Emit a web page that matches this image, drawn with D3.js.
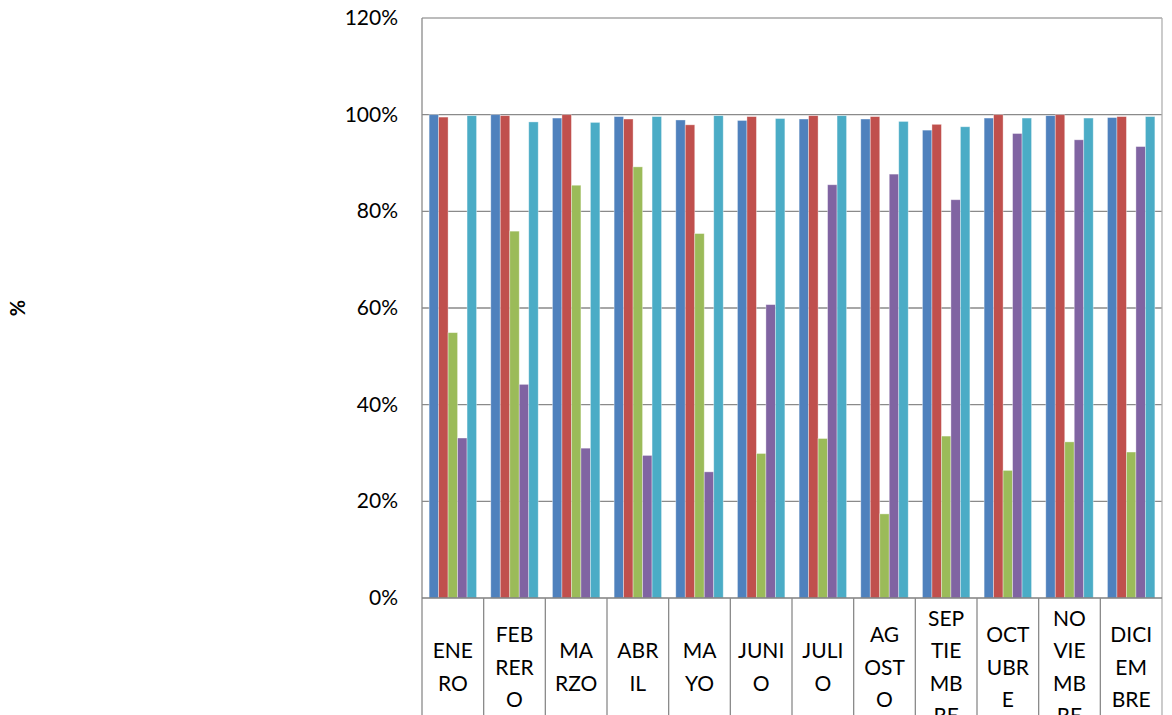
<!DOCTYPE html>
<html>
<head>
<meta charset="utf-8">
<script src="https://cdn.jsdelivr.net/npm/d3@7"></script>
<style>
  body { margin: 0; background: #fff; }
  text { font-family: Lato, "Open Sans", sans-serif; fill: #000; }
</style>
</head>
<body>
<svg id="chart" width="1172" height="715"></svg>
<script>
const months = ["ENERO", "FEBRERO", "MARZO", "ABRIL", "MAYO", "JUNIO", "JULIO",
  "AGOSTO", "SEPTIEMBRE", "OCTUBRE", "NOVIEMBRE", "DICIEMBRE"];
// how each month label wraps in the narrow category cells
const monthLines = [["ENE", "RO"], ["FEB", "RER", "O"], ["MA", "RZO"], ["ABR", "IL"],
  ["MA", "YO"], ["JUNI", "O"], ["JULI", "O"], ["AG", "OST", "O"], ["SEP", "TIE", "MB", "RE"],
  ["OCT", "UBR", "E"], ["NO", "VIE", "MB", "RE"], ["DICI", "EM", "BRE"]];

const serie1 = [1.000, 1.000, 0.993, 0.996, 0.989, 0.988, 0.991, 0.991, 0.968, 0.993, 0.998, 0.994];
const serie2 = [0.995, 0.998, 1.000, 0.991, 0.979, 0.996, 0.998, 0.996, 0.980, 1.000, 1.000, 0.996];
const serie3 = [0.549, 0.759, 0.854, 0.892, 0.754, 0.299, 0.330, 0.174, 0.335, 0.264, 0.323, 0.302];
const serie4 = [0.331, 0.442, 0.310, 0.295, 0.261, 0.607, 0.855, 0.877, 0.824, 0.961, 0.948, 0.934];
const serie5 = [0.998, 0.985, 0.984, 0.996, 0.998, 0.992, 0.998, 0.986, 0.975, 0.993, 0.993, 0.996];

const seriesNames = ["s1", "s2", "s3", "s4", "s5"];
const seriesValues = [serie1, serie2, serie3, serie4, serie5];
const colors = ["#4F81BD", "#C0504D", "#9BBB59", "#8064A2", "#4BACC6"];
const yTicks = [0, 0.2, 0.4, 0.6, 0.8, 1.0, 1.2];

const plotLeft = 422, plotRight = 1162, plotTop = 18, plotBottom = 598;

const svg = d3.select("#chart");

const x0 = d3.scaleBand()
    .domain(months)
    .range([plotLeft, plotRight])
    .paddingInner(1.5 / 6.5)
    .paddingOuter(0.75 / 6.5);

const x1 = d3.scaleBand()
    .domain(seriesNames)
    .range([0, x0.bandwidth()]);

const y = d3.scaleLinear()
    .domain([0, 1.2])
    .range([plotBottom, plotTop]);

const step = (plotRight - plotLeft) / months.length;

// gridlines
svg.append("g")
  .selectAll("line")
    .data(yTicks.filter(d => d > 0))
  .enter().append("line")
    .attr("x1", plotLeft).attr("x2", plotRight)
    .attr("y1", d => y(d)).attr("y2", d => y(d))
    .attr("stroke", d => d === 1.2 ? "#a6a6a6" : "#8a8a8a")
    .attr("stroke-width", 1.3);

// y tick labels
svg.append("g")
  .selectAll("text")
    .data(yTicks)
  .enter().append("text")
    .attr("x", 398)
    .attr("y", d => y(d) + 7)
    .attr("text-anchor", "end")
    .style("font-size", "21px")
    .text(d3.format(".0%"));

// bars
const rows = months.map((m, i) => ({ month: m, values: seriesValues.map(s => s[i]) }));

svg.append("g")
  .selectAll("g")
    .data(rows)
  .enter().append("g")
    .attr("transform", d => `translate(${x0(d.month)},0)`)
  .selectAll("rect")
    .data(d => d.values.map((v, j) => ({ key: seriesNames[j], value: v, color: colors[j] })))
  .enter().append("rect")
    .attr("x", d => x1(d.key))
    .attr("y", d => y(d.value))
    .attr("width", x1.bandwidth())
    .attr("height", d => plotBottom - y(d.value))
    .attr("fill", d => d.color)
    .attr("stroke", "rgba(255,255,255,0.45)")
    .attr("stroke-width", 0.8);

// axes frame: left, right, bottom and the category cells
svg.append("line")
    .attr("x1", plotLeft).attr("x2", plotLeft).attr("y1", plotTop).attr("y2", 715)
    .attr("stroke", "#8a8a8a").attr("stroke-width", 1.3);
svg.append("line")
    .attr("x1", plotRight).attr("x2", plotRight).attr("y1", plotTop).attr("y2", 715)
    .attr("stroke", "#b0b0b0").attr("stroke-width", 1.3);
svg.append("line")
    .attr("x1", plotLeft).attr("x2", plotRight).attr("y1", plotBottom).attr("y2", plotBottom)
    .attr("stroke", "#7f7f7f").attr("stroke-width", 1.5);

svg.append("g")
  .selectAll("line")
    .data(months.slice(1))
  .enter().append("line")
    .attr("x1", d => x0(d) - (step - x0.bandwidth()) / 2)
    .attr("x2", d => x0(d) - (step - x0.bandwidth()) / 2)
    .attr("y1", plotBottom).attr("y2", 715)
    .attr("stroke", "#8a8a8a").attr("stroke-width", 1.3);

// category labels
const lineH = 32.3;
svg.append("g")
  .selectAll("text")
    .data(months)
  .enter().append("text")
    .attr("text-anchor", "middle")
    .style("font-size", "21px")
    .each(function res(d, i) {
      const lines = monthLines[i];
      const cx = x0(d) + x0.bandwidth() / 2;
      const first = 674.5 - (lines.length - 1) / 2 * lineH;
      d3.select(this).selectAll("tspan")
          .data(lines)
        .enter().append("tspan")
          .attr("x", cx)
          .attr("y", (t, k) => first + k * lineH)
          .text(t => t);
    });

// axis title
svg.append("text")
    .attr("transform", "translate(25,308) rotate(-90)")
    .attr("text-anchor", "middle")
    .style("font-size", "20px")
    .style("font-weight", "bold")
    .text("%");
</script>
</body>
</html>
